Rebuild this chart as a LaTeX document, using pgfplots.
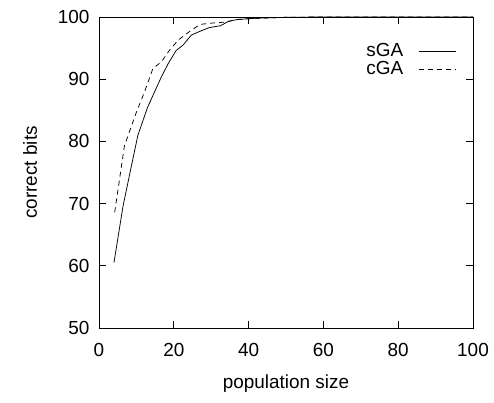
\documentclass[border=0pt]{standalone}
\usepackage{fontspec}
\setmainfont{Liberation Sans}
\usepackage{pgfplots}
\pgfplotsset{compat=1.18}
\begin{document}
\fontsize{19}{23}\selectfont
\begin{tikzpicture}
\begin{axis}[
  name=ax,
  scale only axis, width=374bp, height=311bp,
  xmin=0, xmax=100, ymin=50, ymax=100,
  xtick={0,20,...,100}, ytick={50,60,...,100},
  tick align=inside, major tick length=7bp,
  axis line style={line width=0.8bp},
  every tick/.style={line width=0.8bp, black},
  /pgf/number format/assume math mode=true,
  tick label style={font=\fontsize{19}{23}\selectfont},
  xticklabel style={yshift=-9bp},
  yticklabel style={xshift=-3bp},
  xlabel={population size}, ylabel={correct bits},
  xlabel style={at={(axis description cs:0.5,-0.18)}, anchor=center, font=\fontsize{19}{23}\selectfont},
  ylabel style={at={(axis description cs:-0.184,0.5)}, anchor=center, font=\fontsize{19}{23}\selectfont},
  legend style={draw=none, fill=none, at={(axis description cs:0.955,0.918)}, anchor=north east,
    font=\fontsize{19}{20}\selectfont, row sep=-0.5bp, inner sep=0pt, nodes={inner sep=1bp}},
  legend cell align=right,
  legend plot pos=right,
  legend image code/.code={\path (0bp,0bp); \draw[#1] (14bp,0bp) -- (51bp,0bp);},
  every axis plot/.append style={line width=0.75bp, black},
]
% sGA
\addplot[solid] coordinates {
  (4,60.5) (6.4,69.5) (8.4,75.3) (10.4,81) (13,85.5) (16.7,90.4) (18.5,92.5)
  (20.6,94.6) (22.5,95.5) (24.7,97.1) (27,97.7) (29.5,98.3) (32.5,98.6)
  (34.6,99.3) (37,99.6) (42,99.8) (50,99.95) (60,100) (70,100) (80,100) (90,100) (100,100)
};
\addlegendentry{sGA}
% cGA
\addplot[dash pattern=on 5bp off 4bp] coordinates {
  (4.2,68.6) (6.8,79.3) (10,84.7) (12.2,88) (14.4,91.7) (16.7,92.8) (18.9,94.7)
  (21.2,96.3) (24.3,97.7) (27,98.8) (29.7,99.0) (34.1,99.2) (36.8,99.6)
  (42,99.8) (50,99.95) (60,100) (70,100) (80,100) (90,100) (100,100)
};
\addlegendentry{cGA}
\end{axis}
\pgfresetboundingbox
\path[use as bounding box] ([xshift=-99bp,yshift=-75bp]ax.south west) rectangle ([xshift=21bp,yshift=17bp]ax.north east);
\end{tikzpicture}
\end{document}
